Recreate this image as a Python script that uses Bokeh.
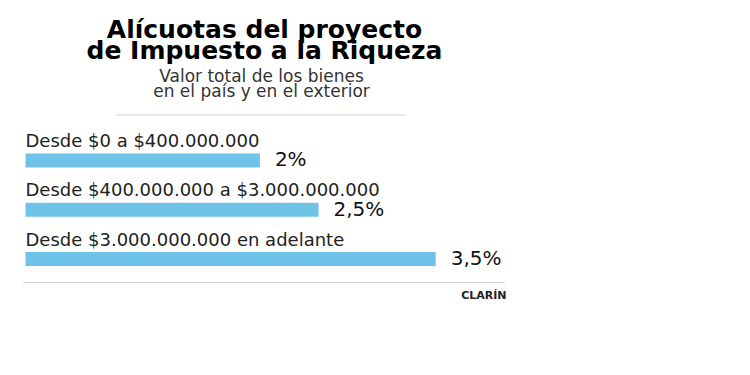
from bokeh.plotting import figure
from bokeh.models import Range1d
from bokeh.core.properties import value
from bokeh.embed import file_html
from bokeh.resources import INLINE

# ---- data ----
categories = [
    "Desde $0 a $400.000.000",
    "Desde $400.000.000 a $3.000.000.000",
    "Desde $3.000.000.000 en adelante",
]
rates = [2.0, 2.5, 3.5]
rate_labels = ["2%", "2,5%", "3,5%"]
title_lines = ["Alícuotas del proyecto", "de Impuesto a la Riqueza"]
subtitle_lines = ["Valor total de los bienes", "en el país y en el exterior"]
source_label = "CLARÍN"

# ---- layout constants (page pixels) ----
W, H = 734, 359
PX_PER_UNIT = 117.2     # pixels per percentage point
X0_PAGE = 25            # page x of value 0
ROW0_PAGE = 160         # page y of first bar centre
ROW_STEP = 49.25        # pixels between bars
BASE_SHIFT = 0.38       # em correction for text anchor


def px_x(page_x):
    return (page_x - X0_PAGE) / PX_PER_UNIT


def px_y(page_y):
    return (page_y - ROW0_PAGE) / ROW_STEP


def dx(px):
    return px / PX_PER_UNIT


def dy(px):
    return px / ROW_STEP


def base(page_y, size):
    return px_y(page_y - BASE_SHIFT * size)


x_start = -X0_PAGE / PX_PER_UNIT
x_end = x_start + W / PX_PER_UNIT
y_top = -ROW0_PAGE / ROW_STEP
y_bottom = y_top + H / ROW_STEP

p = figure(
    width=W, height=H,
    x_range=Range1d(x_start, x_end),
    y_range=Range1d(y_bottom, y_top),
    x_axis_type=None, y_axis_type=None,
    toolbar_location=None, output_backend="svg",
    min_border=0, outline_line_color=None,
    background_fill_color="white", border_fill_color="white",
)
p.grid.visible = False

rows = list(range(len(rates)))
FONT = value("DejaVu Sans")

# bars
p.hbar(y=rows, left=0, right=rates, height=dy(14),
       fill_color="#6FC3E8", line_color=None)

# category labels above bars
CAT_SIZE = 18
p.text(x=[0] * len(rows), y=[r + dy(-13 - BASE_SHIFT * CAT_SIZE) for r in rows],
       text=categories, text_font=FONT, text_font_size=f"{CAT_SIZE}px",
       text_color="#222222", text_align="left", text_baseline="alphabetic")

# value labels
VAL_SIZE = 20
p.text(x=[v + dx(15) for v in rates],
       y=[r + dy(6.5 - BASE_SHIFT * VAL_SIZE) for r in rows],
       text=rate_labels, text_font=FONT, text_font_size=f"{VAL_SIZE}px",
       text_color="#111111", text_align="left", text_baseline="alphabetic")

# title
T_SIZE = 25
p.text(x=[px_x(264)] * 2, y=[base(38, T_SIZE), base(59, T_SIZE)], text=title_lines,
       text_font=FONT, text_font_style="bold", text_font_size=f"{T_SIZE}px",
       text_color="#000000", text_align="center", text_baseline="alphabetic")

# subtitle
S_SIZE = 17
p.text(x=[px_x(261)] * 2, y=[base(82, S_SIZE), base(97, S_SIZE)], text=subtitle_lines,
       text_font=FONT, text_font_size=f"{S_SIZE}px", text_color="#333333",
       text_align="center", text_baseline="alphabetic")

# rules
p.segment(x0=[px_x(116), px_x(22)], x1=[px_x(406), px_x(505)],
          y0=[px_y(114.5), px_y(282)], y1=[px_y(114.5), px_y(282)],
          line_color="#d4d4d4", line_width=1)

# source
C_SIZE = 11
p.text(x=[px_x(506)], y=[base(299, C_SIZE)], text=[source_label],
       text_font=FONT, text_font_style="bold", text_font_size=f"{C_SIZE}px",
       text_color="#222222", text_align="right", text_baseline="alphabetic")

open("out.html", "w").write(file_html(p, INLINE))
